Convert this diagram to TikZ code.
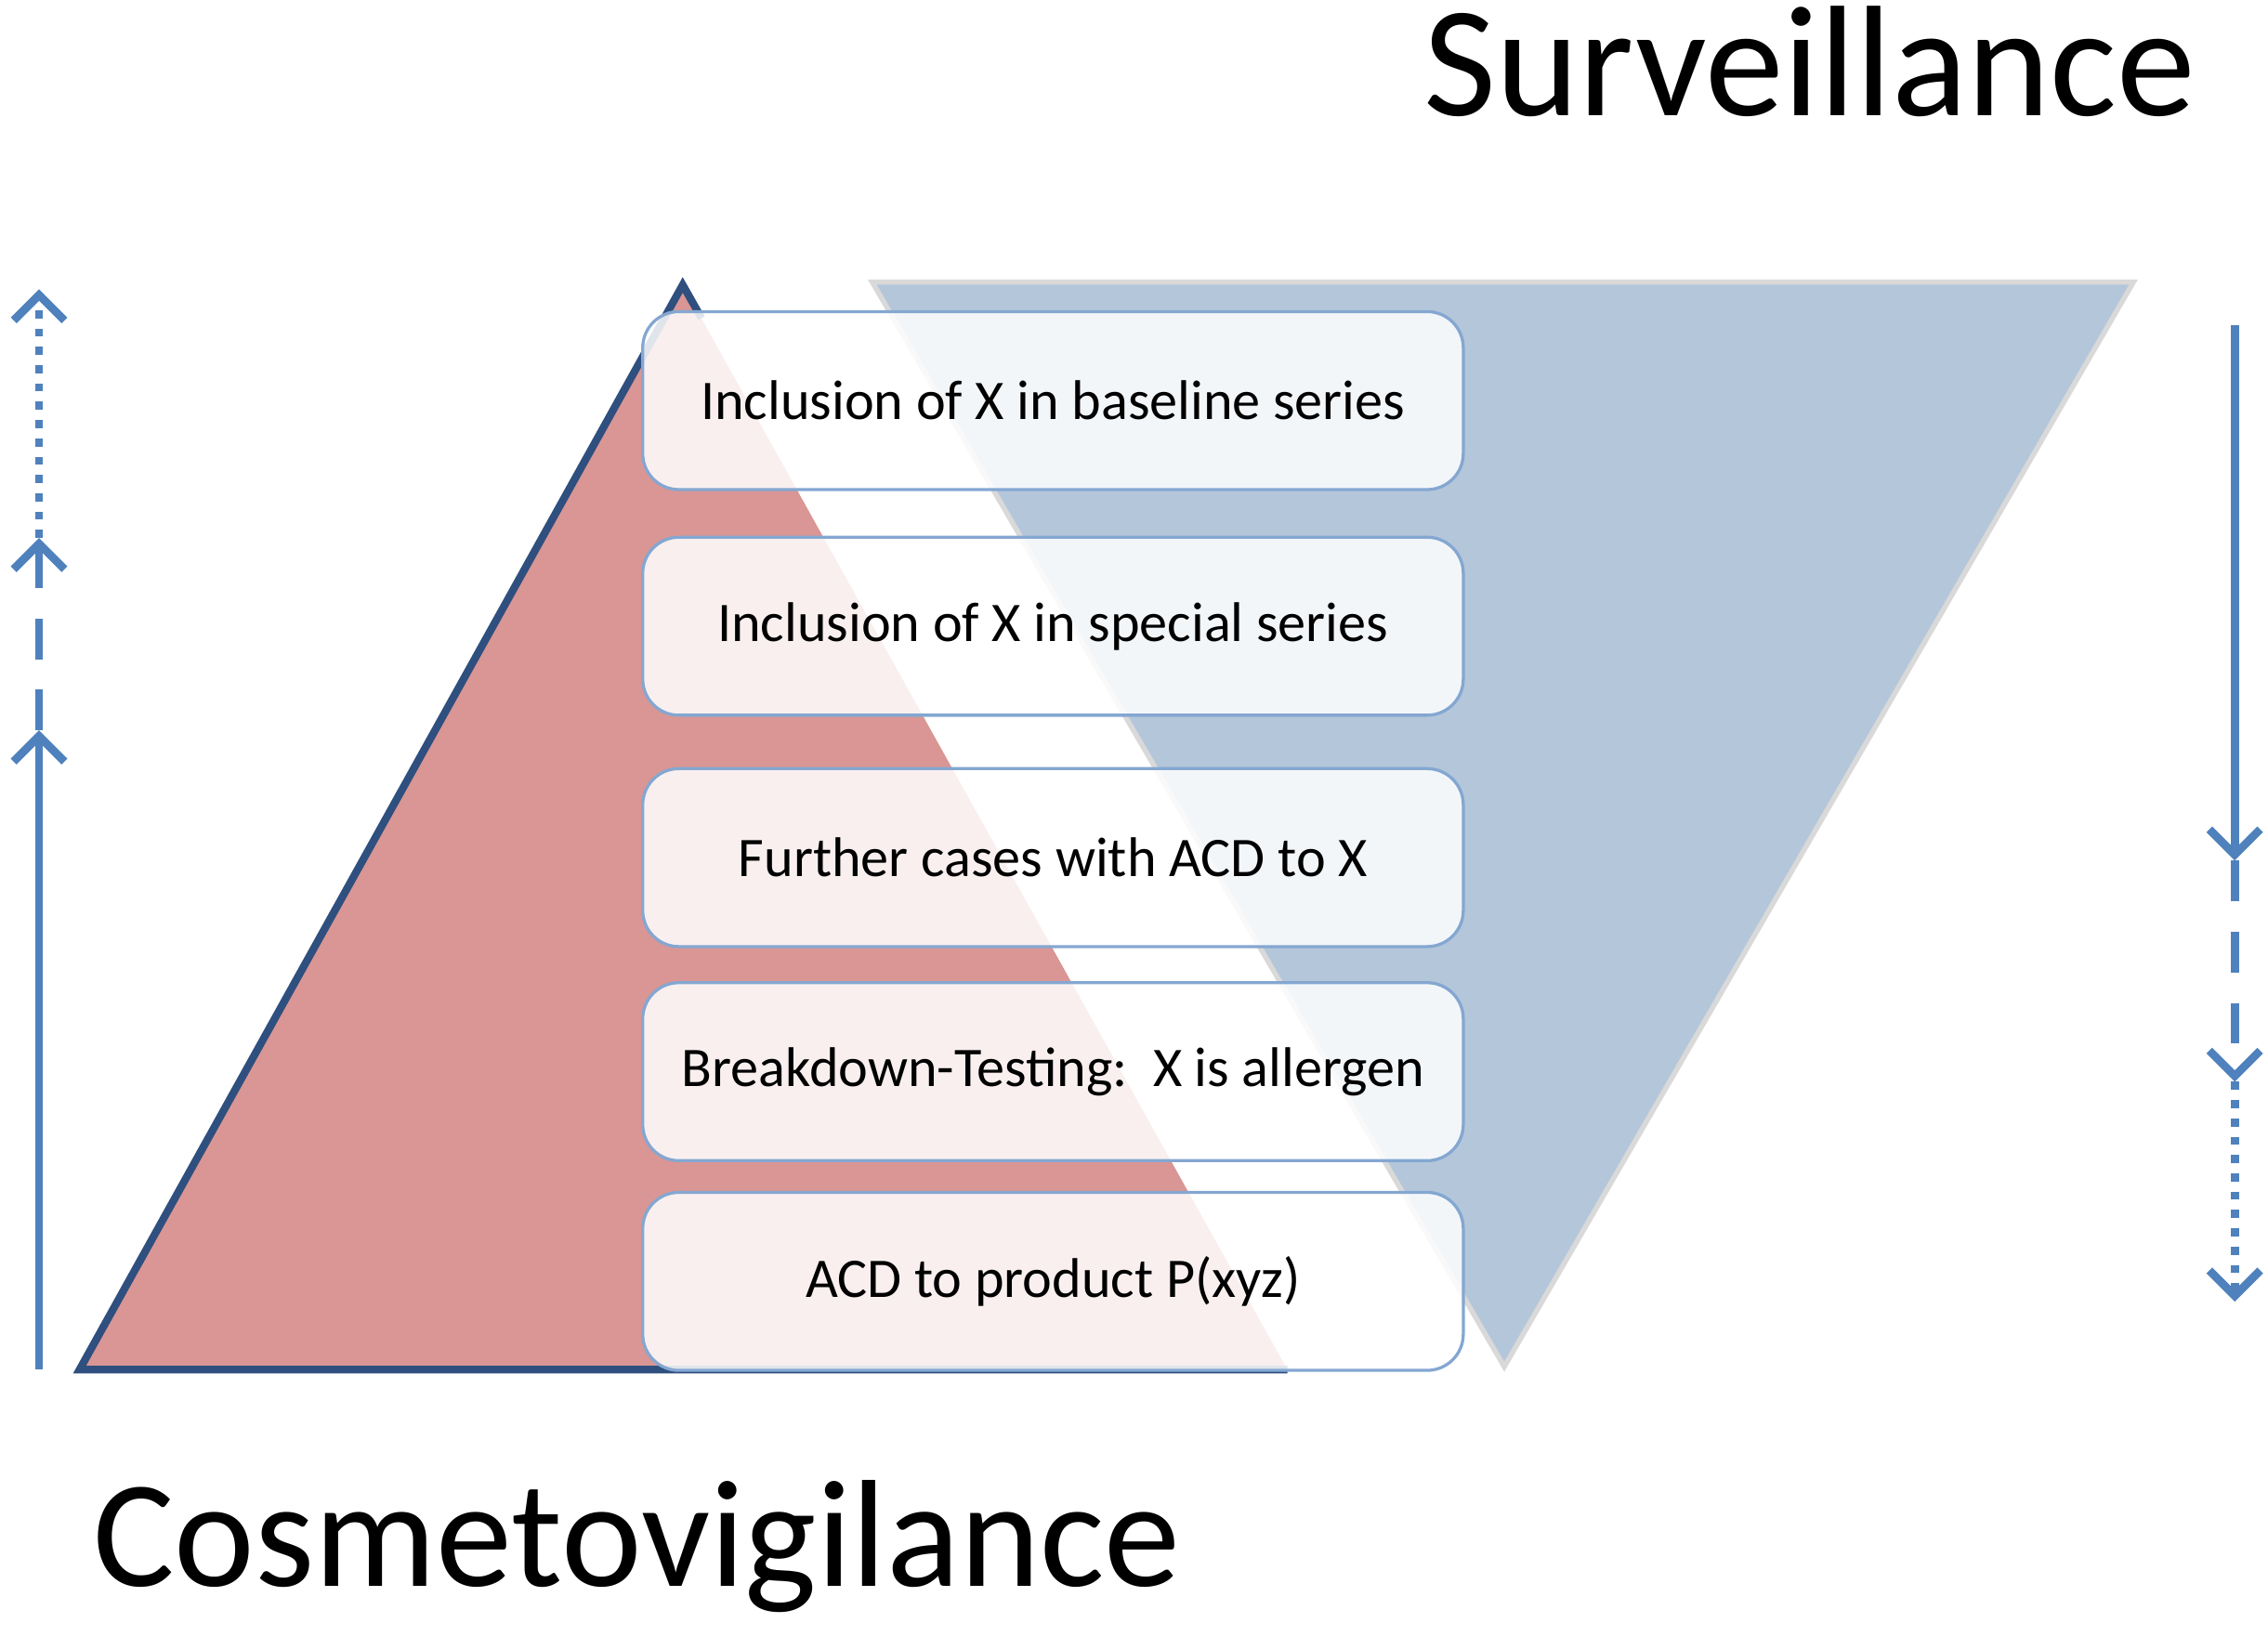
\documentclass[tikz,border=0pt]{standalone}
\usepackage{fontspec}
\setmainfont{Carlito}
\usetikzlibrary{arrows.meta}
\definecolor{ablue}{HTML}{4F81BD}
\definecolor{redf}{HTML}{D99694}
\definecolor{bluef}{HTML}{B4C6DA}
\definecolor{dkb}{HTML}{2F4F7F}
\begin{document}
\begin{tikzpicture}[x=0.01cm,y=-0.01cm,
  box/.style={draw=ablue!70,line width=0.6pt,fill=white,fill opacity=0.85,text opacity=1,rounded corners=0.25cm,minimum width=5.67cm,minimum height=1.23cm,font=\fontsize{11}{13}\selectfont},
  arr/.style={ablue,line width=1.6pt,-{Straight Barb[length=5pt,width=10pt,line width=1.6pt]}},
  dsh/.style={dash pattern=on 8pt off 6pt}]
\useasboundingbox (0,0) rectangle (1568,1131);
\fill[redf] (472,197) -- (55,947) -- (890,947) -- cycle;
\draw[dkb,line width=1.5pt] (890,947) -- (55,947) -- (472,197) -- (485,220);
\fill[bluef,draw=gray!30,line width=1pt] (603,195) -- (1475,195) -- (1040,945) -- cycle;
\node[box] (b1) at (728,277) {Inclusion of X in baseline series};
\node[box] (b2) at (728,433) {Inclusion of X in special series};
\node[box] (b3) at (728,593) {Further cases with ACD to X};
\node[box] (b4) at (728,741) {Breakdown-Testing:\ \ X is allergen};
\node[box] (b5) at (728,886) {ACD to product P(xyz)};
\node[anchor=base west,font=\fontsize{31}{36}\selectfont] (s) at (972,80) {Surveillance};
\node[anchor=base west,font=\fontsize{30}{36}\selectfont] (c) at (52,1097) {Cosmetovigilance};
\coordinate (l0) at (27,947); \coordinate (l1) at (27,505);
\coordinate (l2) at (27,372); \coordinate (l3) at (27,200);
\draw[arr] (l0) -- (l1);
\draw[arr,dsh] (l1) -- (l2);
\draw[arr,dotted] (l2) -- (l3);
\coordinate (r0) at (1545,225); \coordinate (r1) at (1545,595);
\coordinate (r2) at (1545,748); \coordinate (r3) at (1545,900);
\draw[arr] (r0) -- (r1);
\draw[arr,dsh] (r1) -- (r2);
\draw[arr,dotted] (r2) -- (r3);
\end{tikzpicture}
\end{document}
